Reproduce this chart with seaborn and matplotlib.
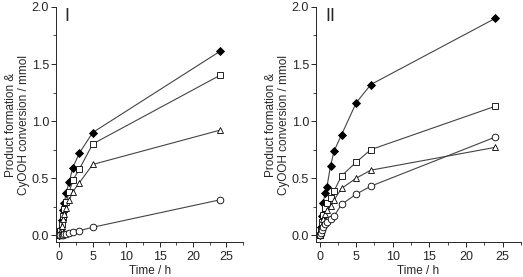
import pandas as pd
import matplotlib
matplotlib.use("Agg")
import matplotlib.pyplot as plt
import seaborn as sns
from matplotlib.ticker import MultipleLocator

# Panel I
t1 = [0, 0.17, 0.33, 0.5, 0.75, 1, 1.5, 2, 3, 5, 24]
dia1 = [0, 0.05, 0.13, 0.22, 0.28, 0.37, 0.47, 0.59, 0.72, 0.90, 1.61]
sq1 = [0, 0.04, 0.10, 0.17, 0.23, 0.29, 0.38, 0.48, 0.58, 0.80, 1.40]
tri1 = [0, 0.03, 0.08, 0.14, 0.19, 0.24, 0.31, 0.38, 0.46, 0.62, 0.92]
cir1 = [0, 0.0, 0.0, 0.0, 0.01, 0.01, 0.02, 0.03, 0.04, 0.07, 0.31]

# Panel II
t2 = [0, 0.17, 0.33, 0.5, 0.75, 1, 1.5, 2, 3, 5, 7, 24]
dia2 = [0, 0.07, 0.17, 0.28, 0.37, 0.42, 0.61, 0.74, 0.88, 1.16, 1.32, 1.90]
sq2 = [0, 0.05, 0.12, 0.18, 0.24, 0.28, 0.33, 0.39, 0.52, 0.64, 0.75, 1.13]
tri2 = [0, 0.04, 0.09, 0.14, 0.19, 0.22, 0.26, 0.31, 0.41, 0.50, 0.57, 0.77]
cir2 = [0, 0.02, 0.05, 0.07, 0.10, 0.12, 0.14, 0.17, 0.27, 0.36, 0.43, 0.86]

sns.set_style("ticks")
plt.rcParams['font.family'] = ['Liberation Sans', 'DejaVu Sans']

fig = plt.figure(figsize=(5.23, 2.77), dpi=100)
ax1 = fig.add_axes([0.107, 0.126, 0.358, 0.849])
ax2 = fig.add_axes([0.604, 0.126, 0.392, 0.849])

styles = [("D", "black"), ("s", "white"), ("^", "white"), ("o", "white")]
sizes = {"D": 4.3, "s": 4.3, "^": 5.0, "o": 4.8}

for ax, t, series, label in [(ax1, t1, [dia1, sq1, tri1, cir1], "I"),
                             (ax2, t2, [dia2, sq2, tri2, cir2], "II")]:
    for vals, (m, fc) in zip(series, styles):
        df = pd.DataFrame({"t": t, "v": vals})
        sns.lineplot(data=df, x="t", y="v", ax=ax, color="#444444", lw=0.8,
                     marker=m, markersize=sizes[m], markerfacecolor=fc,
                     markeredgecolor="black", markeredgewidth=0.6)
    ax.set_xlim(-0.5, 27.5)
    ax.set_ylim(-0.06, 2.0)
    ax.xaxis.set_major_locator(MultipleLocator(5))
    ax.xaxis.set_minor_locator(MultipleLocator(2.5))
    ax.yaxis.set_major_locator(MultipleLocator(0.5))
    ax.yaxis.set_minor_locator(MultipleLocator(0.25))
    ax.tick_params(which="major", length=3.5, width=0.7, labelsize=9, direction="out", pad=1.5)
    ax.tick_params(axis="x", which="major", pad=3)
    ax.tick_params(which="minor", length=2, width=0.6, direction="out")
    sns.despine(ax=ax)
    for s in ["left", "bottom"]:
        ax.spines[s].set_linewidth(0.7)
    ax.set_xlabel("Time / h", fontsize=8.5, labelpad=1)
    ax.set_ylabel("Product formation &\nCyOOH conversion / mmol", fontsize=8.5,
                  labelpad=1, linespacing=1.1)
    ax.text(0.045, 0.995, label, transform=ax.transAxes, fontsize=13,
            va="top", ha="left", fontweight="light")

fig.savefig("out.png", dpi=100)
